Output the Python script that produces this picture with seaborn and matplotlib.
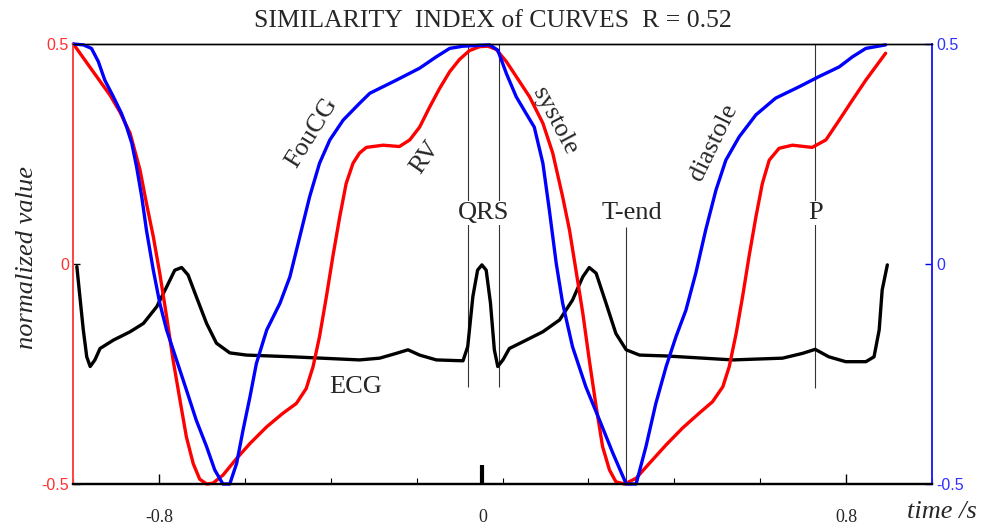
import numpy as np
import pandas as pd
import matplotlib
matplotlib.use('Agg')
import matplotlib.pyplot as plt
import seaborn as sns

# values (time in s, normalized value)
rv_t = [-0.999, -0.953, -0.914, -0.891, -0.867, -0.844, -0.829, -0.813, -0.798, -0.782,
        -0.767, -0.751, -0.736, -0.720, -0.705, -0.689, -0.674, -0.651, -0.619, -0.588,
        -0.549, -0.511, -0.480, -0.457, -0.441, -0.426, -0.410, -0.395, -0.379, -0.364,
        -0.348, -0.333, -0.317, -0.278, -0.240, -0.216, -0.193, -0.170, -0.147, -0.123,
        -0.100, -0.077, -0.053, -0.034, -0.015, 0.009, 0.032, 0.063, 0.094, 0.117,
        0.140, 0.156, 0.171, 0.187, 0.202, 0.218, 0.233, 0.249, 0.264, 0.284,
        0.311, 0.342, 0.381, 0.419, 0.458, 0.489, 0.513, 0.528, 0.544, 0.559,
        0.574, 0.590, 0.605, 0.621, 0.644, 0.675, 0.721, 0.753, 0.784, 0.815,
        0.846, 0.892]
rv_v = [0.500, 0.437, 0.384, 0.346, 0.297, 0.214, 0.138, 0.062, -0.021, -0.120,
        -0.218, -0.309, -0.393, -0.454, -0.489, -0.500, -0.498, -0.480, -0.442, -0.408,
        -0.370, -0.339, -0.317, -0.283, -0.233, -0.165, -0.074, 0.017, 0.107, 0.183,
        0.229, 0.252, 0.265, 0.270, 0.267, 0.282, 0.311, 0.356, 0.398, 0.437,
        0.465, 0.485, 0.494, 0.495, 0.488, 0.460, 0.426, 0.380, 0.320, 0.252,
        0.153, 0.077, -0.014, -0.112, -0.218, -0.324, -0.415, -0.468, -0.495, -0.500,
        -0.487, -0.453, -0.411, -0.373, -0.339, -0.313, -0.279, -0.233, -0.158, -0.074,
        0.017, 0.107, 0.183, 0.236, 0.263, 0.270, 0.265, 0.282, 0.327, 0.373,
        0.418, 0.479]

fcg_t = [-0.999, -0.976, -0.957, -0.941, -0.926, -0.906, -0.887, -0.875, -0.863, -0.852,
         -0.840, -0.829, -0.813, -0.798, -0.782, -0.759, -0.736, -0.713, -0.689, -0.670,
         -0.651, -0.635, -0.619, -0.604, -0.588, -0.573, -0.549, -0.518, -0.495, -0.472,
         -0.449, -0.426, -0.402, -0.371, -0.333, -0.309, -0.247, -0.193, -0.154, -0.123,
         -0.092, -0.030, -0.011, 0.009, 0.032, 0.055, 0.074, 0.094, 0.109, 0.125,
         0.140, 0.163, 0.194, 0.226, 0.257, 0.288, 0.311, 0.334, 0.357, 0.381,
         0.404, 0.427, 0.450, 0.473, 0.497, 0.520, 0.551, 0.590, 0.636, 0.691,
         0.737, 0.784, 0.815, 0.846, 0.892]
fcg_v = [0.500, 0.498, 0.490, 0.460, 0.418, 0.380, 0.342, 0.311, 0.274, 0.221,
         0.153, 0.077, -0.014, -0.089, -0.150, -0.218, -0.286, -0.355, -0.415, -0.468,
         -0.500, -0.500, -0.453, -0.377, -0.302, -0.226, -0.150, -0.089, -0.029, 0.062,
         0.153, 0.229, 0.282, 0.327, 0.365, 0.388, 0.418, 0.445, 0.471, 0.490,
         0.495, 0.498, 0.486, 0.433, 0.380, 0.342, 0.311, 0.229, 0.123, 0.002,
         -0.089, -0.188, -0.279, -0.355, -0.430, -0.500, -0.500, -0.415, -0.317, -0.233,
         -0.165, -0.105, -0.021, 0.077, 0.168, 0.236, 0.289, 0.339, 0.377, 0.403,
         0.426, 0.448, 0.471, 0.490, 0.498]

ecg_t = [-0.991, -0.984, -0.976, -0.968, -0.960, -0.949, -0.937, -0.906, -0.867, -0.836,
         -0.805, -0.782, -0.763, -0.747, -0.732, -0.713, -0.689, -0.666, -0.635, -0.596,
         -0.488, -0.333, -0.286, -0.247, -0.220, -0.193, -0.154, -0.092, -0.081, -0.069,
         -0.058, -0.048, -0.038, -0.028, -0.019, -0.011, 0.001, 0.016, 0.047, 0.094,
         0.133, 0.163, 0.187, 0.202, 0.218, 0.241, 0.264, 0.288, 0.319, 0.381,
         0.536, 0.652, 0.699, 0.728, 0.760, 0.799, 0.846, 0.865, 0.877, 0.884,
         0.896]
ecg_v = [-0.006, -0.074, -0.150, -0.211, -0.233, -0.218, -0.192, -0.173, -0.154, -0.135,
         -0.097, -0.052, -0.014, -0.008, -0.025, -0.074, -0.135, -0.180, -0.202, -0.207,
         -0.211, -0.218, -0.214, -0.203, -0.195, -0.207, -0.218, -0.220, -0.188, -0.074,
         -0.014, -0.002, -0.014, -0.089, -0.195, -0.233, -0.218, -0.192, -0.177, -0.154,
         -0.127, -0.082, -0.029, -0.008, -0.021, -0.089, -0.158, -0.195, -0.207, -0.209,
         -0.218, -0.214, -0.203, -0.194, -0.211, -0.222, -0.222, -0.211, -0.150, -0.059,
         -0.002]

# event markers: time, top, bottom
events_t = [-0.081, -0.007, 0.288, 0.728]
events_top = [0.5, 0.5, 0.084, 0.5]
events_bot = [-0.280, -0.280, -0.5, -0.282]

sns.set_theme(style='white')
plt.rcParams['font.family'] = ['Liberation Serif', 'DejaVu Serif']

fig = plt.figure(figsize=(9.83, 5.28), dpi=100)
ax = fig.add_axes([73/983, 44/528, 859/983, 440/528])

for t, top, bot in zip(events_t, events_top, events_bot):
    ax.vlines(t, bot, top, color='#333333', lw=0.8, zorder=1)

line_kw = dict(sort=False, estimator=None, lw=2.4, ax=ax, clip_on=False,
               solid_capstyle='round', solid_joinstyle='round')
ecg = pd.DataFrame({'t': ecg_t, 'v': ecg_v})
rv = pd.DataFrame({'t': rv_t, 'v': rv_v})
fcg = pd.DataFrame({'t': fcg_t, 'v': fcg_v})
sns.lineplot(data=ecg, x='t', y='v', color='black', zorder=3, **line_kw)
sns.lineplot(data=rv, x='t', y='v', color='#ff0000', zorder=4, **line_kw)
sns.lineplot(data=fcg, x='t', y='v', color='#0000ff', zorder=5, **line_kw)

ax.set_xlim(-1, 0.998)
ax.set_ylim(-0.5, 0.5)
ax.set_xlabel('')
ax.set_ylabel('')

# x axis
ax.set_xticks([-0.8, -0.047, 0.8])
ax.set_xticklabels(['-0.8', '0', '0.8'], fontsize=13, family='Liberation Serif')
ax.set_xticks(np.arange(-1, 1.01, 0.2), minor=True)
ax.tick_params(axis='x', which='major', direction='in', length=7, width=1, pad=18, bottom=True, color='black')
ax.tick_params(axis='x', which='minor', direction='in', length=4, width=0.8, bottom=True, color='black')
mid = ax.xaxis.get_major_ticks()[1]
mid.tick1line.set_markersize(14)
mid.tick1line.set_markeredgewidth(3)

# y axes
ax.set_yticks([-0.5, 0, 0.5])
ax.set_yticklabels(['-0.5', '0', '0.5'], fontsize=11.5, family='Liberation Sans', color='#ff3030')
ax.tick_params(axis='y', direction='in', length=5, width=1, pad=3, left=True, color='black')
ax2 = ax.twinx()
ax2.set_ylim(-0.5, 0.5)
ax2.set_yticks([-0.5, 0, 0.5])
ax2.set_yticklabels(['-0.5', '0', '0.5'], fontsize=11.5, family='Liberation Sans', color='#3030ff')
ax2.tick_params(axis='y', direction='in', length=5, width=1, pad=3, right=True, color='#0000ff')

for a in (ax, ax2):
    a.spines['left'].set_color('#ff4040')
    a.spines['right'].set_color('#2020ff')
    a.spines['top'].set_color('black')
    a.spines['bottom'].set_color('black')
    a.spines['bottom'].set_linewidth(1.6)
    a.spines['top'].set_linewidth(1.0)
    a.spines['left'].set_linewidth(1.2)
    a.spines['right'].set_linewidth(1.2)

# annotations
fs = 19
ax.text(-0.444, 0.298, 'FouCG', rotation=58, fontsize=fs, ha='center', va='center')
ax.text(-0.179, 0.243, 'RV', rotation=55, fontsize=fs, ha='center', va='center')
ax.text(0.121, 0.325, 'systole', rotation=-62, fontsize=fs, ha='center', va='center')
ax.text(0.491, 0.277, 'diastole', rotation=64, fontsize=fs, ha='center', va='center')
ax.text(-0.342, -0.280, 'ECG', fontsize=fs, ha='center', va='center')
box = dict(fc='white', ec='none', pad=1)
ax.text(-0.044, 0.116, 'QRS', fontsize=fs, ha='center', va='center', bbox=box, zorder=2)
ax.text(0.302, 0.116, 'T-end', fontsize=fs, ha='center', va='center', bbox=box, zorder=2)
ax.text(0.728, 0.116, 'P', fontsize=fs, ha='center', va='center', bbox=box, zorder=2)

fig.text(493/983, 1 - 21/528, 'SIMILARITY  INDEX of CURVES  R = 0.52', fontsize=18.5, ha='center', va='center')
fig.text(27/983, 1 - 257/528, 'normalized value', rotation=90, fontsize=19, style='italic', ha='center', va='center')
fig.text(942/983, 1 - 512/528, 'time /s', fontsize=19, style='italic', ha='center', va='center')

fig.savefig('out.png', dpi=100)
